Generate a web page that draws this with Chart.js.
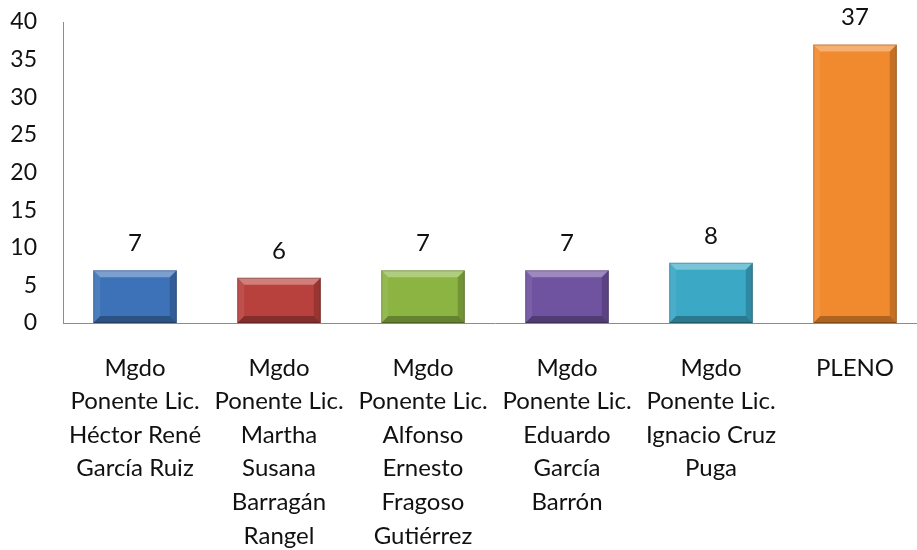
<!DOCTYPE html>
<html>
<head>
<meta charset="utf-8">
<script src="https://cdn.jsdelivr.net/npm/chart.js@4/dist/chart.umd.min.js"></script>
<style>
  html, body { margin: 0; padding: 0; background: #fff; overflow: hidden; }
  #wrap { width: 927px; height: 550px; }
</style>
</head>
<body>
<div id="wrap"><canvas id="c" width="927" height="550"></canvas></div>
<script>
// Asuntos por ponente
const categories = [
  ["Mgdo", "Ponente Lic.", "Héctor René", "García Ruiz"],
  ["Mgdo", "Ponente Lic.", "Martha", "Susana", "Barragán", "Rangel"],
  ["Mgdo", "Ponente Lic.", "Alfonso", "Ernesto", "Fragoso", "Gutiérrez"],
  ["Mgdo", "Ponente Lic.", "Eduardo", "García", "Barrón"],
  ["Mgdo", "Ponente Lic.", "Ignacio Cruz", "Puga"],
  ["PLENO"]
];
const values = [7, 6, 7, 7, 8, 37];
const barColors = ["#3d72b8", "#b8413d", "#8bb443", "#6f52a0", "#3ba8c6", "#f18a2e"];
const yTicks = [0, 5, 10, 15, 20, 25, 30, 35, 40];

const FONT = "Lato, 'Open Sans', sans-serif";

// Beveled look on each bar plus the value above it
const bevelPlugin = {
  id: 'bevel',
  afterDatasetsDraw(chart) {
    const ctx = chart.ctx;
    const meta = chart.getDatasetMeta(0);
    meta.data.forEach((bar, i) => {
      const p = bar.getProps(['x', 'y', 'base', 'width'], true);
      const L = p.x - p.width / 2, R = p.x + p.width / 2, T = p.y, B = p.base;
      const b = 7;
      ctx.save();
      const poly = (pts, fill) => {
        ctx.beginPath();
        ctx.moveTo(pts[0][0], pts[0][1]);
        for (let k = 1; k < pts.length; k++) ctx.lineTo(pts[k][0], pts[k][1]);
        ctx.closePath();
        ctx.fillStyle = fill;
        ctx.fill();
      };
      poly([[L, T], [R, T], [R - b, T + b], [L + b, T + b]], 'rgba(255,255,255,0.32)');
      poly([[L, T], [L + b, T + b], [L + b, B - b], [L, B]], 'rgba(255,255,255,0.08)');
      poly([[R, T], [R - b, T + b], [R - b, B - b], [R, B]], 'rgba(0,0,0,0.18)');
      poly([[L, B], [L + b, B - b], [R - b, B - b], [R, B]], 'rgba(0,0,0,0.28)');
      ctx.strokeStyle = 'rgba(0,0,0,0.22)';
      ctx.lineWidth = 1;
      ctx.strokeRect(L + 0.5, T + 0.5, p.width - 1, B - T - 1);
      // value label
      ctx.fillStyle = '#111';
      ctx.font = '24px ' + FONT;
      ctx.textAlign = 'center';
      ctx.textBaseline = 'middle';
      ctx.fillText(String(values[i]), p.x, T - 27);
      ctx.restore();
    });
  }
};

new Chart(document.getElementById('c'), {
  type: 'bar',
  data: {
    labels: categories,
    datasets: [{
      data: values,
      backgroundColor: barColors,
      borderWidth: 0,
      barPercentage: 0.58,
      categoryPercentage: 1.0
    }]
  },
  options: {
    responsive: false,
    animation: false,
    layout: { padding: { left: 0, right: 0, top: 22, bottom: 0 } },
    plugins: { legend: { display: false }, tooltip: { enabled: false } },
    scales: {
      y: {
        min: 0, max: 40,
        afterBuildTicks: (s) => { s.ticks = yTicks.map(v => ({ value: v })); },
        afterFit: (s) => { s.width = 63; s.paddingTop = 0; s.paddingBottom = 0; },
        grid: { display: false, drawTicks: false },
        border: { display: true, color: '#8c8c8c', width: 1 },
        ticks: { color: '#111', padding: 26, font: { family: FONT, size: 23 } }
      },
      x: {
        afterFit: (s) => { s.height = 227; s.paddingTop = 0; s.paddingBottom = 0; s.paddingLeft = 0; s.paddingRight = 0; },
        grid: { display: false, drawTicks: false },
        border: { display: true, color: '#8c8c8c', width: 1 },
        ticks: {
          color: '#111', padding: 28, maxRotation: 0, autoSkip: false,
          font: { family: FONT, size: 24, lineHeight: 1.4 }
        }
      }
    }
  },
  plugins: [bevelPlugin]
});
</script>
</body>
</html>
